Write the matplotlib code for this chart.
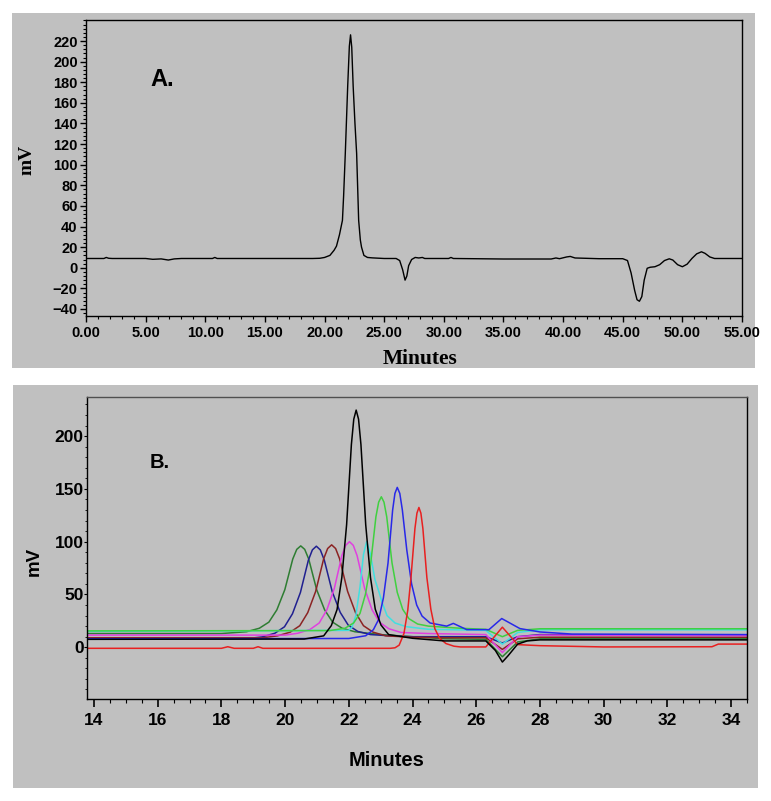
import matplotlib
matplotlib.use('Agg')
import matplotlib.pyplot as plt
from matplotlib.ticker import MultipleLocator, FormatStrFormatter, FixedLocator
from matplotlib.patches import Rectangle

# ---------------- data: panel A (single chromatogram) ----------------
a_time = [0.0, 1.5, 1.7, 1.9, 2.2, 5.0, 5.6, 6.3, 6.9, 7.4, 8.0, 10.6, 10.8, 11.0,
          19.0, 19.6, 20.0, 20.45, 20.8, 21.0, 21.25, 21.5, 21.6, 21.74, 21.94, 22.08,
          22.18, 22.28, 22.4, 22.55, 22.69, 22.86, 23.0, 23.1, 23.3, 23.6, 24.0, 25.0,
          26.0, 26.3, 26.55, 26.75, 26.9, 27.05, 27.3, 27.6, 27.9, 28.2, 28.4, 30.4,
          30.6, 30.8, 35.0, 39.0, 39.4, 39.7, 40.3, 40.6, 41.0, 43.0, 45.0, 45.4, 45.7,
          46.0, 46.2, 46.4, 46.6, 46.8, 47.05, 47.3, 47.7, 48.1, 48.5, 48.9, 49.2, 49.6,
          50.0, 50.4, 50.8, 51.2, 51.6, 51.9, 52.3, 52.7, 55.0]
a_mv = [9.0, 9.0, 10.0, 9.2, 9.0, 9.0, 8.2, 8.6, 7.5, 8.6, 9.0, 9.0, 10.0, 9.0,
        9.0, 9.2, 10.0, 12.0, 17.0, 21.0, 32.0, 46.0, 70.0, 111.0, 176.0, 215.0,
        226.0, 214.0, 176.0, 140.0, 111.0, 46.0, 27.0, 20.0, 12.0, 10.0, 9.6, 9.0,
        9.0, 7.0, -2.0, -12.0, -8.0, 2.0, 8.0, 10.0, 9.5, 10.0, 9.0, 9.0,
        10.0, 9.0, 8.5, 8.5, 9.5, 8.8, 10.5, 11.0, 9.5, 8.8, 8.8, 7.0, -5.0,
        -22.0, -31.0, -32.5, -28.0, -12.0, -0.5, 0.5, 1.0, 3.0, 7.0, 8.7, 7.5, 3.0,
        1.0, 3.5, 9.0, 13.5, 15.5, 14.0, 10.5, 9.0, 9.0]

# ---------------- data: panel B (overlaid chromatograms) ----------------
b_dkgreen_t = [13.78, 18.0, 18.79, 19.19, 19.49, 19.74, 19.99, 20.24, 20.365, 20.49, 20.615, 20.74, 20.99, 21.24, 21.49, 21.79, 22.19, 23.0, 25.0, 26.3, 26.82, 27.3, 28.0, 34.5]
b_dkgreen_mv = [13.0, 13.0, 14.7, 18.0, 23.8, 35.4, 54.5, 83.6, 92.7, 96.0, 92.7, 83.6, 54.5, 35.4, 23.8, 18.0, 14.7, 12.0, 8.0, 7.5, -9.0, 5.0, 8.0, 8.0]

b_navy_t = [13.78, 15.0, 15.2, 18.9, 19.28, 19.68, 19.98, 20.23, 20.48, 20.73, 20.855, 20.98, 21.105, 21.23, 21.48, 21.73, 21.98, 22.28, 22.68, 23.5, 24.0, 26.3, 26.82, 27.3, 28.0, 30.0, 34.5]
b_navy_mv = [8.0, 8.0, 9.0, 8.5, 9.8, 13.3, 19.4, 31.7, 51.9, 82.5, 92.2, 95.7, 92.2, 82.5, 52.5, 33.0, 21.0, 15.0, 12.0, 10.5, 10.0, 10.0, 4.0, 10.0, 12.0, 11.5, 11.5]

b_brown_t = [13.78, 19.3, 19.76, 20.16, 20.46, 20.71, 20.96, 21.21, 21.335, 21.46, 21.585, 21.71, 21.96, 22.21, 22.46, 22.76, 23.16, 24.0, 25.0, 26.3, 26.82, 27.3, 28.0, 34.5]
b_brown_mv = [9.0, 9.0, 10.8, 14.3, 20.4, 32.8, 53.0, 83.8, 93.5, 97.0, 93.5, 83.8, 53.0, 32.8, 20.4, 14.3, 10.8, 9.5, 9.0, 9.0, -2.0, 8.0, 9.5, 9.5]

b_magenta_t = [13.78, 20.0, 20.4, 20.78, 21.07, 21.31, 21.545, 21.78, 21.9, 22.02, 22.14, 22.26, 22.495, 22.73, 22.97, 23.26, 23.64, 24.5, 26.3, 26.82, 27.3, 28.0, 34.5]
b_magenta_mv = [11.5, 11.5, 13.3, 16.8, 23.0, 35.4, 55.8, 86.7, 96.5, 100.0, 96.5, 86.7, 55.8, 35.4, 23.5, 17.5, 14.0, 13.0, 12.0, -5.0, 10.0, 11.5, 11.0]

b_black_t = [13.78, 20.6, 21.21, 21.45, 21.63, 21.78, 21.93, 22.08, 22.155, 22.23, 22.305, 22.38, 22.53, 22.68, 22.83, 23.01, 23.25, 24.0, 25.0, 26.3, 26.6, 26.82, 27.0, 27.3, 27.6, 28.0, 34.5]
b_black_mv = [7.5, 7.8, 10.8, 20.5, 35.7, 66.0, 116.0, 192.0, 216.0, 224.6, 216.0, 192.0, 116.0, 66.0, 36.0, 21.0, 12.0, 8.5, 6.0, 6.0, -3.0, -14.0, -8.0, 3.0, 6.0, 7.0, 7.0]

b_cyan_t = [13.78, 22.0, 22.1, 22.22, 22.35, 22.46, 22.56, 22.68, 22.82, 22.95, 23.05, 23.2, 23.45, 23.8, 24.5, 26.3, 26.82, 27.3, 28.0, 34.5]
b_cyan_mv = [15.0, 16.0, 19.0, 30.0, 57.0, 88.0, 100.0, 88.0, 64.0, 52.0, 42.0, 30.0, 23.0, 19.5, 17.0, 16.0, 3.0, 14.0, 16.5, 16.5]

b_green_t = [13.78, 21.4, 21.88, 22.15, 22.35, 22.52, 22.685, 22.85, 22.936, 23.02, 23.104, 23.19, 23.355, 23.52, 23.69, 23.89, 24.16, 24.5, 25.5, 26.3, 26.82, 27.3, 28.0, 34.5]
b_green_mv = [15.5, 15.8, 18.0, 23.0, 32.0, 50.0, 79.0, 123.5, 137.4, 142.5, 137.4, 123.5, 80.0, 52.0, 36.0, 27.0, 22.0, 20.0, 18.0, 17.0, 10.0, 16.0, 17.5, 17.5]

b_blue_t = [13.78, 22.0, 22.53, 22.77, 22.94, 23.085, 23.23, 23.375, 23.447, 23.52, 23.6, 23.68, 23.82, 23.97, 24.13, 24.3, 24.55, 25.07, 25.28, 25.7, 26.4, 26.8, 27.37, 28.0, 29.0, 34.5]
b_blue_mv = [8.0, 8.3, 10.9, 16.6, 26.6, 46.7, 79.7, 129.9, 145.7, 151.4, 145.7, 130.0, 92.0, 60.0, 40.0, 29.5, 23.0, 20.0, 22.6, 16.7, 16.7, 27.2, 17.7, 14.5, 12.5, 12.0]

b_red_t = [13.78, 18.0, 18.2, 18.4, 19.0, 19.15, 19.3, 23.3, 23.45, 23.58, 23.73, 23.85, 23.95, 24.075, 24.138, 24.2, 24.262, 24.325, 24.45, 24.575, 24.7, 24.85, 25.05, 25.3, 25.5, 26.3, 26.82, 27.3, 28.0, 30.0, 33.4, 33.6, 34.5]
b_red_mv = [-1.0, -1.0, 0.5, -1.0, -1.0, 0.5, -1.0, -1.0, -0.5, 2.0, 13.0, 35.0, 65.7, 112.4, 127.0, 132.4, 127.0, 112.4, 66.0, 36.0, 17.6, 8.5, 3.5, 1.0, 0.3, 0.3, 19.0, 2.5, 1.5, 0.3, 0.5, 3.0, 3.0]

b_series = [
    (b_dkgreen_t, b_dkgreen_mv, '#2e7d32'),
    (b_navy_t, b_navy_mv, '#202090'),
    (b_brown_t, b_brown_mv, '#8b2323'),
    (b_magenta_t, b_magenta_mv, '#e040e0'),
    (b_cyan_t, b_cyan_mv, '#40e0e0'),
    (b_green_t, b_green_mv, '#40d040'),
    (b_blue_t, b_blue_mv, '#2828e8'),
    (b_red_t, b_red_mv, '#e82020'),
    (b_black_t, b_black_mv, '#000000'),
]

a_xticks = [0, 5, 10, 15, 20, 25, 30, 35, 40, 45, 50, 55]
a_yticks = [-40, -20, 0, 20, 40, 60, 80, 100, 120, 140, 160, 180, 200, 220]
b_xticks = [14, 16, 18, 20, 22, 24, 26, 28, 30, 32, 34]
b_yticks = [0, 50, 100, 150, 200]

# ---------------- figure ----------------
W, H = 771, 801
GRAY = '#c0c0c0'
fig = plt.figure(figsize=(W / 100, H / 100), dpi=100)
fig.patch.set_facecolor('white')

def fbox(x0, y0, x1, y1):
    return [x0 / W, 1 - y1 / H, (x1 - x0) / W, (y1 - y0) / H]

for (x0, y0, x1, y1) in [(12, 13, 755, 368), (13, 385, 758, 788)]:
    b = fbox(x0, y0, x1, y1)
    fig.patches.append(Rectangle((b[0], b[1]), b[2], b[3], transform=fig.transFigure,
                                 facecolor=GRAY, edgecolor='none', zorder=-5))

SANS = 'Liberation Sans'
SERIF = 'Liberation Serif'

# ----- Panel A -----
axA = fig.add_axes(fbox(86, 20, 742, 316))
axA.set_zorder(2)
axA.set_facecolor('none')
axA.plot(a_time, a_mv, color='black', lw=1.0)
axA.set_xlim(0, 55)
axA.set_ylim(-46.8, 240.4)
axA.xaxis.set_major_locator(FixedLocator(a_xticks))
axA.xaxis.set_minor_locator(MultipleLocator(1))
axA.xaxis.set_major_formatter(FormatStrFormatter('%.2f'))
axA.yaxis.set_major_locator(FixedLocator(a_yticks))
axA.yaxis.set_minor_locator(MultipleLocator(4))
axA.tick_params(axis='both', which='major', direction='out', length=4, width=1, colors='black')
axA.tick_params(axis='both', which='minor', direction='out', length=2, width=0.8)
axA.tick_params(axis='x', which='major', pad=3)
axA.tick_params(axis='y', which='major', pad=2)
for lab in axA.get_xticklabels() + axA.get_yticklabels():
    lab.set_fontfamily(SANS); lab.set_fontweight('bold'); lab.set_fontsize(10.5)
for s in axA.spines.values():
    s.set_color('black'); s.set_linewidth(1.0)
axA.text(5.4, 183, 'A.', fontfamily=SANS, fontweight='bold', fontsize=17, va='center', ha='left')
fig.text(27 / W, 1 - 160 / H, 'mV', rotation=90, fontfamily=SERIF, fontweight='bold',
         fontsize=14, ha='center', va='center')
fig.text(420 / W, 1 - 359 / H, 'Minutes', fontfamily=SERIF, fontweight='bold',
         fontsize=15.5, ha='center', va='center')

# ----- Panel B -----
axB = fig.add_axes(fbox(87, 397, 747, 699))
axB.set_zorder(2)
axB.set_facecolor('none')
for t, v, c in b_series:
    axB.plot(t, v, color=c, lw=1.1)
axB.set_xlim(13.78, 34.5)
axB.set_ylim(-49, 237)
axB.xaxis.set_major_locator(FixedLocator(b_xticks))
axB.xaxis.set_minor_locator(MultipleLocator(0.5))
axB.yaxis.set_major_locator(FixedLocator(b_yticks))
axB.yaxis.set_minor_locator(MultipleLocator(10))
axB.tick_params(axis='x', which='major', direction='out', length=6, width=1.2, pad=4)
axB.tick_params(axis='x', which='minor', direction='out', length=3, width=0.8)
axB.tick_params(axis='y', which='major', direction='out', length=2, width=0.8, pad=0.5)
axB.tick_params(axis='y', which='minor', direction='out', length=1.5, width=0.6)
for lab in axB.get_xticklabels() + axB.get_yticklabels():
    lab.set_fontfamily(SANS); lab.set_fontweight('bold'); lab.set_fontsize(12.5)
for k, s in axB.spines.items():
    s.set_color('black'); s.set_linewidth(1.0)
axB.spines['top'].set_color('#505050')
axB.text(15.76, 175, 'B.', fontfamily=SANS, fontweight='bold', fontsize=14.5, va='center', ha='left')
fig.text(34 / W, 1 - 561 / H, 'mV', rotation=90, fontfamily=SANS, fontweight='bold',
         fontsize=13.5, ha='center', va='center')
fig.text(387 / W, 1 - 761 / H, 'Minutes', fontfamily=SANS, fontweight='bold',
         fontsize=14.5, ha='center', va='center')

fig.savefig('out.png', dpi=100, facecolor='white')
